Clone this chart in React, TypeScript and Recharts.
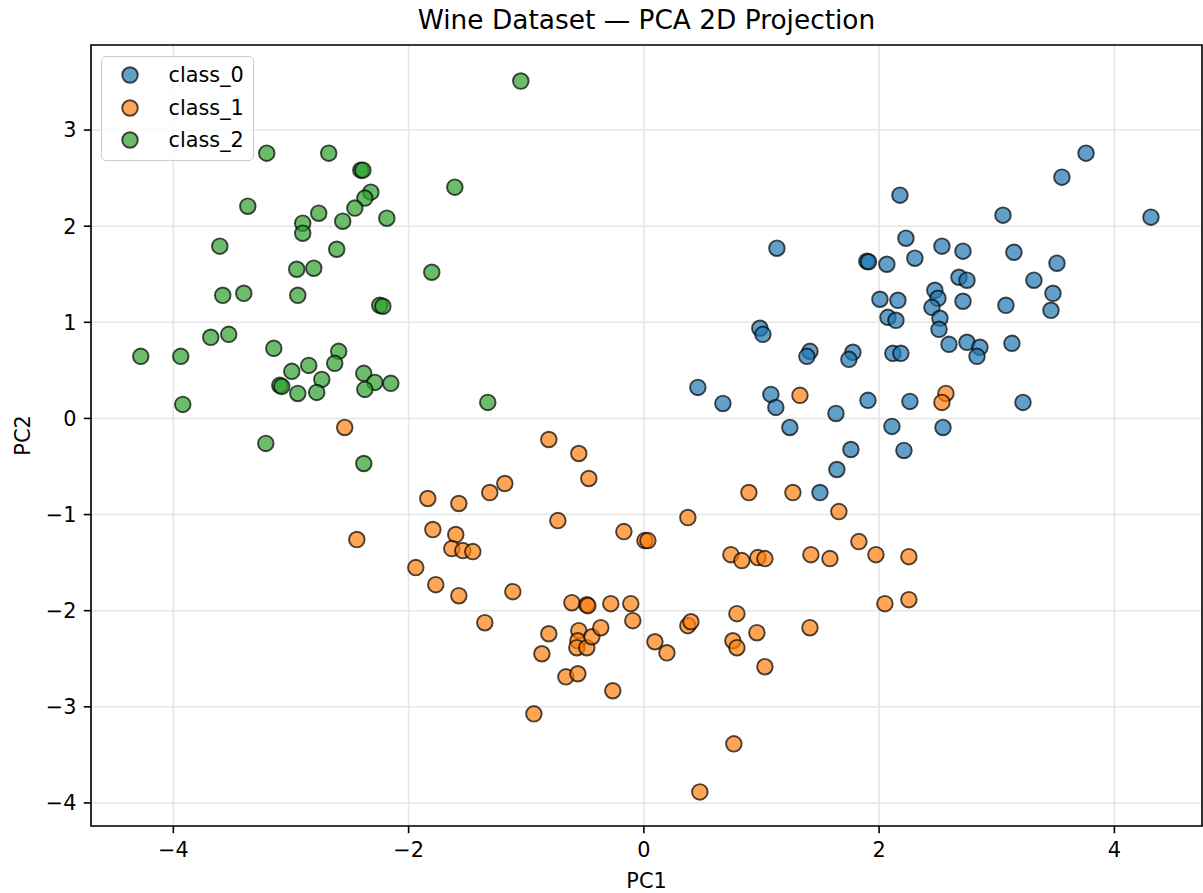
import React from 'react';
import { ScatterChart, Scatter, XAxis, YAxis, CartesianGrid, ReferenceArea, Legend, Label } from 'recharts';

const classNames = ['class_0', 'class_1', 'class_2'];
const classColors = ['#1f77b4', '#ff7f0e', '#2ca02c'];

const class0X = [3.759, 3.554, 2.177, 3.053, 4.311, 1.131, 2.228, 2.534, 2.713, 3.146, 3.512, 2.304, 1.896, 1.91, 2.066, 2.679, 2.747, 3.316, 2.474, 2.5, 2.713, 3.078, 3.478, 2.007, 2.16, 2.449, 3.461, 2.075, 2.143, 2.517, 2.509, 2.594, 2.747, 2.857, 2.832, 3.129, 0.986, 1.012, 1.412, 1.386, 1.777, 1.743, 2.117, 2.185, 0.459, 0.672, 1.08, 1.122, 1.241, 1.633, 1.905, 2.262, 2.109, 2.211, 1.76, 1.641, 1.497, 3.223, 2.543];
const class0Y = [2.76, 2.51, 2.323, 2.115, 2.094, 1.771, 1.875, 1.792, 1.74, 1.729, 1.615, 1.667, 1.635, 1.63, 1.604, 1.469, 1.438, 1.438, 1.333, 1.25, 1.219, 1.177, 1.302, 1.24, 1.229, 1.156, 1.125, 1.052, 1.021, 1.042, 0.927, 0.771, 0.792, 0.74, 0.646, 0.781, 0.938, 0.875, 0.698, 0.646, 0.688, 0.615, 0.677, 0.677, 0.323, 0.156, 0.25, 0.115, -0.094, 0.052, 0.188, 0.177, -0.083, -0.333, -0.323, -0.531, -0.771, 0.167, -0.094];

const class1X = [-2.543, -2.44, -0.808, -0.553, -0.468, -1.182, -1.31, -1.837, -1.573, -0.731, -0.17, 0.009, 0.034, -1.794, -1.599, -1.633, -1.539, -1.454, -1.939, -1.769, -1.573, -1.114, -1.352, -0.612, -0.485, -0.476, -0.281, -0.111, -0.094, -0.808, -0.553, -0.561, -0.57, -0.485, -0.442, -0.366, -0.867, -0.663, -0.561, -0.264, -0.935, 0.094, 0.196, 0.374, 0.4, 0.791, 0.757, 0.791, 0.961, 1.029, 1.412, 2.049, 2.253, 0.765, 0.476, 1.327, 0.893, 1.267, 1.658, 0.374, 0.74, 0.833, 0.969, 1.029, 1.42, 1.582, 1.973, 2.253, 1.828, 2.568, 2.534];
const class1Y = [-0.094, -1.26, -0.219, -0.365, -0.625, -0.677, -0.771, -0.833, -0.885, -1.063, -1.177, -1.271, -1.271, -1.156, -1.208, -1.354, -1.375, -1.385, -1.552, -1.729, -1.844, -1.802, -2.125, -1.917, -1.938, -1.948, -1.927, -1.927, -2.104, -2.24, -2.208, -2.313, -2.385, -2.385, -2.271, -2.177, -2.448, -2.688, -2.656, -2.833, -3.073, -2.323, -2.438, -2.156, -2.115, -2.031, -2.313, -2.385, -2.229, -2.583, -2.177, -1.927, -1.885, -3.385, -3.885, 0.24, -0.771, -0.771, -0.969, -1.031, -1.417, -1.479, -1.448, -1.458, -1.417, -1.458, -1.417, -1.438, -1.281, 0.26, 0.167];

const class2X = [-1.046, -3.206, -2.679, -2.406, -2.389, -2.321, -2.372, -3.367, -2.764, -2.9, -2.9, -2.56, -2.457, -2.185, -3.605, -2.611, -2.951, -2.806, -1.803, -3.58, -3.401, -2.942, -2.245, -2.219, -3.682, -3.529, -4.277, -3.937, -3.146, -2.594, -2.628, -2.849, -2.993, -2.738, -3.095, -3.078, -2.942, -2.781, -2.381, -2.287, -2.372, -2.151, -3.92, -1.327, -3.214, -2.381, -1.607];
const class2Y = [3.51, 2.76, 2.76, 2.583, 2.583, 2.354, 2.292, 2.208, 2.135, 2.031, 1.927, 2.052, 2.188, 2.083, 1.792, 1.76, 1.552, 1.563, 1.521, 1.281, 1.302, 1.281, 1.177, 1.167, 0.844, 0.875, 0.646, 0.646, 0.729, 0.698, 0.573, 0.552, 0.49, 0.406, 0.344, 0.333, 0.26, 0.271, 0.469, 0.375, 0.302, 0.365, 0.146, 0.167, -0.26, -0.469, 2.406];

const xTicks = [-4, -2, 0, 2, 4];
const yTicks = [-4, -3, -2, -1, 0, 1, 2, 3];
const xDomain: [number, number] = [-4.7, 4.745];
const yDomain: [number, number] = [-4.24, 3.885];

const zip = (xs: number[], ys: number[]) => xs.map((x, i) => ({ x, y: ys[i] }));
const seriesData = [zip(class0X, class0Y), zip(class1X, class1Y), zip(class2X, class2Y)];

const FONT = '"DejaVu Sans", sans-serif';
const MARKER_R = 7.8;

const fmt = (v: number) => String(v).replace('-', '\u2212');

const makeShape = (color: string) => (props: any) => (
  <circle
    cx={props.cx}
    cy={props.cy}
    r={MARKER_R}
    fill={color}
    fillOpacity={0.7}
    stroke="#000"
    strokeOpacity={0.7}
    strokeWidth={1.9}
  />
);

const LegendBox = () => (
  <div
    style={{
      border: '1.5px solid #cccccc',
      borderRadius: 5,
      background: 'rgba(255,255,255,0.8)',
      width: 151,
      height: 101,
      boxSizing: 'content-box',
      paddingTop: 2,
      fontFamily: FONT,
      fontSize: 20.8,
      color: '#000',
    }}
  >
    {classNames.map((name, i) => (
      <div key={name} style={{ height: 32.6, display: 'flex', alignItems: 'center' }}>
        <svg width={20} height={20} style={{ marginLeft: 17.5, flex: 'none' }}>
          <circle cx={10} cy={10} r={MARKER_R} fill={classColors[i]} fillOpacity={0.7} stroke="#000" strokeOpacity={0.7} strokeWidth={1.9} />
        </svg>
        <span style={{ marginLeft: 29, lineHeight: '20px' }}>{name}</span>
      </div>
    ))}
  </div>
);

export default function App() {
  return (
    <div style={{ position: 'absolute', left: 0, top: 0, width: 1203, height: 893, background: '#fff' }}>
      <div
        style={{
          position: 'absolute',
          left: 91,
          width: 1111,
          top: 4,
          textAlign: 'center',
          fontFamily: FONT,
          fontSize: 26.4,
          lineHeight: '32px',
          color: '#000',
          zIndex: 2,
        }}
      >
        Wine Dataset — PCA 2D Projection
      </div>
      <ScatterChart width={1203} height={893} margin={{ top: 45, right: 1, bottom: 0, left: 0 }}>
        <CartesianGrid stroke="#e6e6e6" strokeWidth={1.6} />
        <XAxis
          type="number"
          dataKey="x"
          domain={xDomain}
          ticks={xTicks}
          allowDataOverflow
          height={67}
          axisLine={false}
          tickSize={7.2}
          tickMargin={9}
          tickLine={{ stroke: '#000', strokeWidth: 1.6 }}
          tick={{ fill: '#000', fontSize: 20.8, fontFamily: FONT }}
          tickFormatter={fmt}
        >
          <Label
            content={(p: any) => {
              const vb = p.viewBox;
              return (
                <text x={vb.x + vb.width / 2} y={888} textAnchor="middle" fontFamily={FONT} fontSize={20.8} fill="#000">
                  PC1
                </text>
              );
            }}
          />
        </XAxis>
        <YAxis
          type="number"
          dataKey="y"
          domain={yDomain}
          ticks={yTicks}
          allowDataOverflow
          width={91}
          axisLine={false}
          tickSize={7.2}
          tickMargin={7.3}
          tickLine={{ stroke: '#000', strokeWidth: 1.6 }}
          tick={{ fill: '#000', fontSize: 20.8, fontFamily: FONT }}
          tickFormatter={fmt}
        >
          <Label
            content={(p: any) => {
              const vb = p.viewBox;
              const cy = vb.y + vb.height / 2;
              return (
                <text x={29.5} y={cy} textAnchor="middle" transform={`rotate(-90, 29.5, ${cy})`} fontFamily={FONT} fontSize={20.8} fill="#000">
                  PC2
                </text>
              );
            }}
          />
        </YAxis>
        {seriesData.map((d, i) => (
          <Scatter
            key={classNames[i]}
            name={classNames[i]}
            data={d}
            fill={classColors[i]}
            shape={makeShape(classColors[i])}
            isAnimationActive={false}
          />
        ))}
        <ReferenceArea
          x1={xDomain[0]}
          x2={xDomain[1]}
          y1={yDomain[0]}
          y2={yDomain[1]}
          fill="none"
          stroke="#000"
          strokeWidth={1.6}
          ifOverflow="visible"
        />
        <Legend
          layout="vertical"
          align="center"
          verticalAlign="middle"
          wrapperStyle={{ position: 'absolute', left: 101, top: 56, width: 'auto', height: 'auto' }}
          content={() => <LegendBox />}
        />
      </ScatterChart>
    </div>
  );
}
